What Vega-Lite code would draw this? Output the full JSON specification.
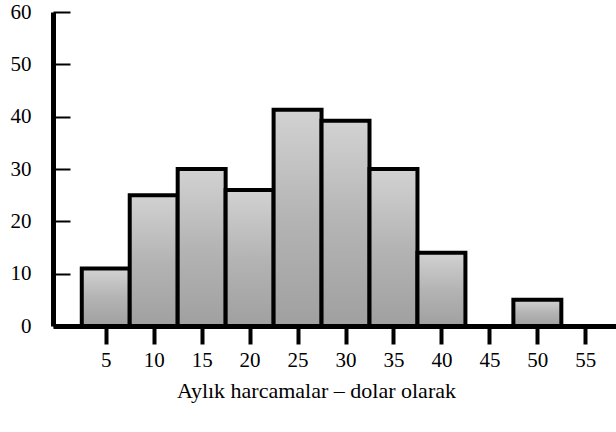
{
  "$schema": "https://vega.github.io/schema/vega-lite/v6.json",
  "width": 563,
  "height": 314,
  "autosize": {"type": "none"},
  "padding": {"left": 53, "top": 12, "right": 0, "bottom": 106},
  "background": "white",
  "config": {
    "view": {"stroke": null},
    "font": "Liberation Serif",
    "axis": {
      "grid": false,
      "labelFont": "Liberation Serif",
      "titleFont": "Liberation Serif",
      "labelColor": "black",
      "titleColor": "black",
      "domainColor": "black",
      "tickColor": "black"
    }
  },
  "data": {
    "values": [
      {"mid": 5, "start": 2.5, "end": 7.5, "count": 11},
      {"mid": 10, "start": 7.5, "end": 12.5, "count": 25},
      {"mid": 15, "start": 12.5, "end": 17.5, "count": 30},
      {"mid": 20, "start": 17.5, "end": 22.5, "count": 26},
      {"mid": 25, "start": 22.5, "end": 27.5, "count": 41.3},
      {"mid": 30, "start": 27.5, "end": 32.5, "count": 39.2},
      {"mid": 35, "start": 32.5, "end": 37.5, "count": 30},
      {"mid": 40, "start": 37.5, "end": 42.5, "count": 14},
      {"mid": 50, "start": 47.5, "end": 52.5, "count": 5}
    ]
  },
  "mark": {
    "type": "bar",
    "orient": "vertical",
    "fill": {
      "gradient": "linear",
      "x1": 0, "y1": 0, "x2": 0, "y2": 1,
      "stops": [
        {"offset": 0, "color": "#d2d2d2"},
        {"offset": 0.5, "color": "#b4b4b4"},
        {"offset": 1, "color": "#a0a0a0"}
      ]
    },
    "stroke": "black",
    "strokeWidth": 4,
    "strokeJoin": "miter"
  },
  "encoding": {
    "x": {
      "field": "start",
      "type": "quantitative",
      "scale": {"domain": [-0.5, 58.2], "nice": false, "zero": false, "padding": 0},
      "axis": {
        "values": [5, 10, 15, 20, 25, 30, 35, 40, 45, 50, 55],
        "format": "d",
        "domainWidth": 5,
        "tickSize": 18,
        "tickWidth": 4,
        "labelPadding": 5,
        "labelFontSize": 21,
        "labelFlush": false,
        "title": "Aylık harcamalar – dolar olarak",
        "titleFontSize": 22,
        "titleFontWeight": "normal",
        "titleX": 263,
        "titleY": 71,
        "titleAlign": "center",
        "titleBaseline": "alphabetic"
      }
    },
    "x2": {"field": "end"},
    "y": {
      "field": "count",
      "type": "quantitative",
      "scale": {"domain": [0, 60], "nice": false, "padding": 0},
      "axis": {
        "values": [0, 10, 20, 30, 40, 50, 60],
        "format": "d",
        "domainWidth": 5,
        "tickSize": -17,
        "tickWidth": 2,
        "labelPadding": 39,
        "labelFontSize": 21,
        "labelFlush": false,
        "title": null
      }
    },
    "y2": {"datum": 0}
  }
}
